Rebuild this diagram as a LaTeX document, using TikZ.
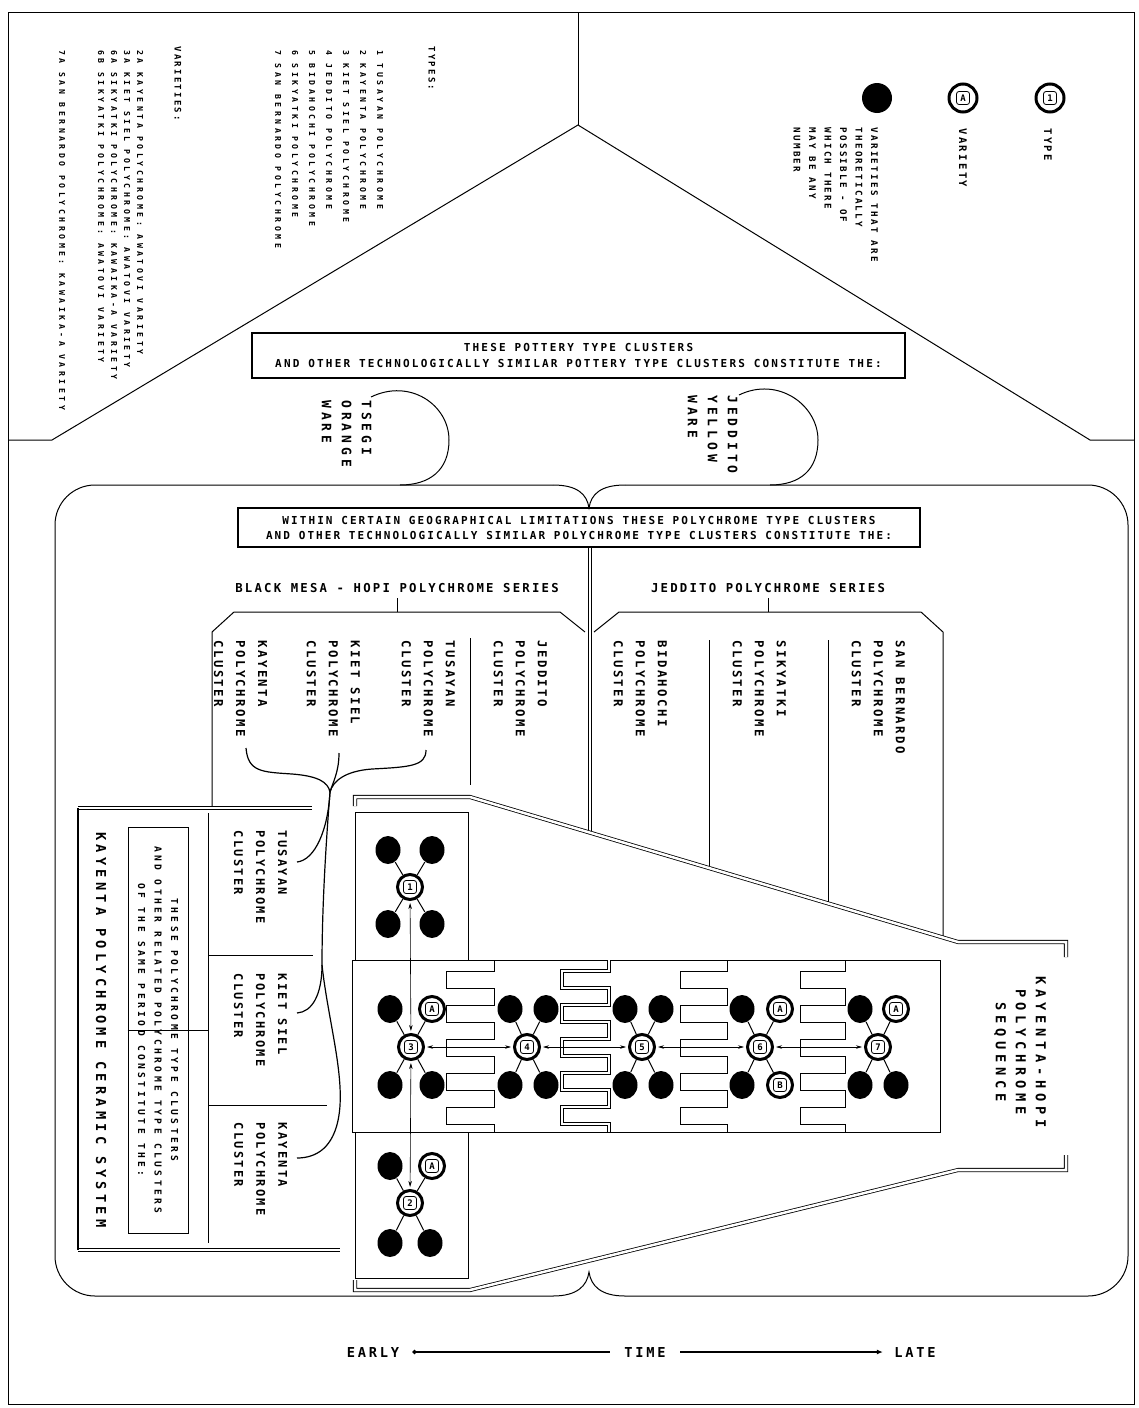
\documentclass[tikz,border=0pt]{standalone}
\usepackage{fontspec}
\setmainfont{DejaVu Sans Mono}
\usetikzlibrary{shapes.geometric,arrows.meta}

% lettering: size, letter spacing, baselineskip
\newcommand{\lt}[3]{\fontsize{#1}{#3}\selectfont\bfseries\addfontfeatures{LetterSpace=#2}}
% type / variety symbol
\newcommand{\sym}[4][]{%
  \node[typering,#1] (#2) at (#3) {};
  \node[typetag] (#2t) at (#2) {#4};}
% interlocking boundary between two types
\newcommand{\meander}[3]{%
  \draw[#3] (#2,960) \foreach \k in {0,...,4} {
    -- (#2,971+34*\k) -- (#1,971+34*\k) -- (#1,988+34*\k) -- (#2,988+34*\k)} -- (#2,1132);}

\begin{document}
\begin{tikzpicture}[x=1pt,y=-1pt,line width=1pt,
  every node/.style={inner sep=0pt},
  typering/.style={circle,draw,line width=3pt,minimum size=25pt},
  typetag/.style={draw,fill=white,rounded corners=2.5pt,line width=0.8pt,minimum size=13pt,font=\lt{9}{0}{9}},
  blob/.style={ellipse,fill=black,minimum width=25pt,minimum height=28pt},
  spoke/.style={line width=1pt},
  twoway/.style={{Stealth[length=6pt,width=3.5pt]}-{Stealth[length=6pt,width=3.5pt]},line width=0.6pt,shorten >=2pt,shorten <=2pt},
  rline/.style={double,double distance=2.5pt,line width=0.8pt},
  boxtext/.style={draw,line width=1.2pt,align=center,font=\lt{11}{20}{16}},
  listtext/.style={rotate=-90,anchor=west,font=\lt{8.2}{43}{10}},
  headtext/.style={rotate=-90,anchor=west,font=\lt{9}{25}{10}},
  clab/.style={rotate=-90,anchor=north west,align=left,font=\lt{12.3}{20}{22}},
  warelab/.style={rotate=-90,anchor=north west,align=left,font=\lt{13}{30}{20}},
]
\useasboundingbox (0,0) rectangle (1138,1408);
\draw (8,12) rectangle (1134,1404);

% dach
\draw (578,12) -- (578,125);
\draw (8,440) -- (52,440) -- (578,125) -- (1090,440) -- (1134,440);

% listen
\node[headtext] (typeshead) at (432,46) {TYPES:};
\node[listtext] (ty1) at (380,50) {1 TUSAYAN POLYCHROME};
\node[listtext] (ty2) at (363,50) {2 KAYENTA POLYCHROME};
\node[listtext] (ty3) at (346,50) {3 KIET SIEL POLYCHROME};
\node[listtext] (ty4) at (329,50) {4 JEDDITO POLYCHROME};
\node[listtext] (ty5) at (312,50) {5 BIDAHOCHI POLYCHROME};
\node[listtext] (ty6) at (295,50) {6 SIKYATKI POLYCHROME};
\node[listtext] (ty7) at (278,50) {7 SAN BERNARDO POLYCHROME};

\node[headtext] (varhead) at (178,46) {VARIETIES:};
\node[listtext] (va2a) at (140,50) {2A KAYENTA POLYCHROME: AWATOVI VARIETY};
\node[listtext] (va3a) at (127,50) {3A KIET SIEL POLYCHROME: AWATOVI VARIETY};
\node[listtext] (va6a) at (114,50) {6A SIKYATKI POLYCHROME: KAWAIKA-A VARIETY};
\node[listtext] (va6b) at (101,50) {6B SIKYATKI POLYCHROME: AWATOVI VARIETY};
\node[listtext] (va7a) at (62,50) {7A SAN BERNARDO POLYCHROME: KAWAIKA-A VARIETY};

% legende
\sym[minimum size=28pt]{ltype}{1050,98}{1}
\node[rotate=-90,anchor=west,font=\lt{10.5}{23}{12}] (ltypetext) at (1048,128) {TYPE};
\sym[minimum size=28pt]{lvar}{963,98}{A}
\node[rotate=-90,anchor=west,font=\lt{10.5}{23}{12}] (lvartext) at (963,128) {VARIETY};
\node[blob,minimum width=30pt,minimum height=30pt] (ldot) at (877,98) {};
\node[rotate=-90,anchor=north west,align=left,font=\lt{9.2}{25}{15.5}] (ldottext) at (878.4,127)
  {VARIETIES THAT ARE\\THEORETICALLY\\POSSIBLE - OF\\WHICH THERE\\MAY BE ANY\\NUMBER};

\node[boxtext,minimum width=653pt,minimum height=45pt] (potbox) at (578.5,355.5)
  {THESE POTTERY TYPE CLUSTERS\\AND OTHER TECHNOLOGICALLY SIMILAR POTTERY TYPE CLUSTERS CONSTITUTE THE:};

% waren
\node[warelab] (tsegi) at (372,400) {TSEGI\\ORANGE\\WARE};
\node[warelab] (jedware) at (738,395) {JEDDITO\\YELLOW\\WARE};
\draw (371,397) .. controls (410,378) and (449,405) .. (449,440) .. controls (449,470) and (430,485) .. (400,485);
\draw (739,395) .. controls (778,376) and (818,405) .. (818,440) .. controls (818,470) and (800,485) .. (770,485);

% rahmen unten
\draw[rounded corners=40pt] (553,485) -- (55,485) -- (55,1296) -- (553,1296);
\draw[rounded corners=40pt] (625,485) -- (1128,485) -- (1128,1296) -- (625,1296);
\draw (553,485) .. controls (577,485) and (587,494) .. (589,508) .. controls (591,494) and (601,485) .. (625,485);
\draw (553,1296) .. controls (577,1296) and (587,1286) .. (589,1272) .. controls (591,1286) and (601,1296) .. (625,1296);

\node[boxtext,minimum width=682pt,minimum height=39pt,font=\lt{11}{19}{15}] (geobox) at (579,527.5)
  {WITHIN CERTAIN GEOGRAPHICAL LIMITATIONS THESE POLYCHROME TYPE CLUSTERS\\AND OTHER TECHNOLOGICALLY SIMILAR POLYCHROME TYPE CLUSTERS CONSTITUTE THE:};
\coordinate (dlbot) at (590,832);
\draw[rline] (geobox.south -| dlbot) -- (dlbot);

% serien
\node[font=\lt{12.3}{18}{14}] (bmser) at (397,588) {BLACK MESA - HOPI POLYCHROME SERIES};
\node[font=\lt{12.3}{18}{14}] (jdser) at (768,588) {JEDDITO POLYCHROME SERIES};
\coordinate (bmtop) at (397,612);
\coordinate (jdtop) at (768,612);
\draw (bmser.south) ++(0,5) -- (bmtop);
\draw (jdser.south) ++(0,5) -- (jdtop);
\draw (212,806) -- (212,632) -- (234,612) -- (560,612) -- (585,632);
\draw (594,632) -- (619,612) -- (921,612) -- (943,632) -- (943,937);
\draw (470,638) -- (470,785);
\draw (709,640) -- (709,868);
\draw (828,640) -- (828,903);

\node[clab] (kayU) at (267.5,640) {KAYENTA\\POLYCHROME\\CLUSTER};
\node[clab] (kietU) at (360.5,640) {KIET SIEL\\POLYCHROME\\CLUSTER};
\node[clab] (tusU) at (455.5,640) {TUSAYAN\\POLYCHROME\\CLUSTER};
\node[clab] (jedU) at (547.5,640) {JEDDITO\\POLYCHROME\\CLUSTER};
\node[clab] (bidU) at (667.5,640) {BIDAHOCHI\\POLYCHROME\\CLUSTER};
\node[clab] (sikU) at (786.5,640) {SIKYATKI\\POLYCHROME\\CLUSTER};
\node[clab] (sanU) at (905.5,640) {SAN BERNARDO\\POLYCHROME\\CLUSTER};

% klammer
\coordinate (bkay) at (246,748);
\coordinate (bkiet) at (339,753);
\coordinate (btus) at (426,750);
\coordinate (bjoin) at (330,792);
\coordinate (bsplit) at (322,965);
\coordinate (etus) at (297,862);
\coordinate (ekiet) at (297,1013);
\coordinate (ekay) at (297,1158);
\begin{scope}[line width=1.2pt]
\draw (bkay) .. controls (248,772) and (262,772) .. (292,774) .. controls (318,776) and (328,782) .. (bjoin);
\draw (bkiet) .. controls (339,772) and (333,782) .. (bjoin);
\draw (btus) .. controls (426,766) and (410,767) .. (372,769) .. controls (345,771) and (333,781) .. (bjoin);
\draw (bjoin) .. controls (327,830) and (322,900) .. (bsplit);
\draw (bjoin) .. controls (328,830) and (315,860) .. (etus);
\draw (bsplit) .. controls (322,995) and (312,1012) .. (ekiet);
\draw (bsplit) .. controls (328,1020) and (345,1075) .. (339,1115) .. controls (334,1148) and (316,1158) .. (ekay);
\end{scope}

% keramik system
\draw[double,double distance=1.5pt,line width=0.9pt] (312,808) -- (78,808);
\draw[double,double distance=1.5pt,line width=0.9pt] (78,1250) -- (340,1250);
\draw[line width=1.4pt] (78,808) -- (78,1250);
\node[rotate=-90,font=\lt{13.7}{31}{16}] (kcsys) at (101,1030) {KAYENTA POLYCHROME CERAMIC SYSTEM};
\node[draw,rotate=-90,minimum width=406pt,minimum height=60pt,align=center,font=\lt{9.6}{36}{16.5}] (relbox) at (158,1030)
  {THESE POLYCHROME TYPE CLUSTERS\\AND OTHER RELATED POLYCHROME TYPE CLUSTERS\\OF THE SAME PERIOD CONSTITUTE THE:};
\coordinate (celltop) at (208,813);
\coordinate (cellbot) at (208,1243);
\draw (celltop) -- (cellbot);
\draw (relbox.south) -- (relbox.south -| celltop);
\draw (208,955) -- (313,955);
\draw (208,1105) -- (327,1105);
\node[clab,font=\lt{12}{19}{22}] (tusL) at (287.5,830) {TUSAYAN\\POLYCHROME\\CLUSTER};
\node[clab,font=\lt{12}{19}{22}] (kietL) at (287.5,973) {KIET SIEL\\POLYCHROME\\CLUSTER};
\node[clab,font=\lt{12}{19}{22}] (kayL) at (287.5,1122) {KAYENTA\\POLYCHROME\\CLUSTER};

% sequenz
\draw[rline] (355,806) -- (355,797) -- (470,797) -- (958,942) -- (1066,942) -- (1066,957);
\draw[rline] (355,1280) -- (355,1290) -- (470,1290) -- (958,1170) -- (1066,1170) -- (1066,1155);
\node[rotate=-90,align=center,font=\lt{13.7}{35}{20}] (kseq) at (1020,1052) {KAYENTA-HOPI\\POLYCHROME\\SEQUENCE};

\draw (355,812) rectangle (468,960);
\draw (352,960) rectangle (940,1132);
\draw (355,1132) rectangle (468,1278);

\meander{446}{494}{}
\meander{562}{609}{double,double distance=2.5pt,line width=0.8pt}
\meander{680}{727}{}
\meander{800}{845}{}

% typ 1
\sym{t1}{410,887}{1}
\node[blob] (b1a) at (388,850) {};
\node[blob] (b1b) at (432,850) {};
\node[blob] (b1c) at (388,924) {};
\node[blob] (b1d) at (432,924) {};
\foreach \b in {b1a,b1b,b1c,b1d} \draw[spoke] (t1) -- (\b);
% typ 3
\sym{t3}{411,1047}{3}
\node[blob] (b3a) at (390,1009) {};
\sym{v3a}{432,1009}{A}
\node[blob] (b3c) at (390,1085) {};
\node[blob] (b3d) at (432,1085) {};
\foreach \b in {b3a,v3a,b3c,b3d} \draw[spoke] (t3) -- (\b);
% typ 4
\sym{t4}{527,1047}{4}
\node[blob] (b4a) at (510,1009) {};
\node[blob] (b4b) at (546,1009) {};
\node[blob] (b4c) at (510,1085) {};
\node[blob] (b4d) at (546,1085) {};
\foreach \b in {b4a,b4b,b4c,b4d} \draw[spoke] (t4) -- (\b);
% typ 5
\sym{t5}{642,1047}{5}
\node[blob] (b5a) at (625,1009) {};
\node[blob] (b5b) at (661,1009) {};
\node[blob] (b5c) at (625,1085) {};
\node[blob] (b5d) at (661,1085) {};
\foreach \b in {b5a,b5b,b5c,b5d} \draw[spoke] (t5) -- (\b);
% typ 6
\sym{t6}{760,1047}{6}
\node[blob] (b6a) at (742,1009) {};
\sym{v6a}{780,1009}{A}
\node[blob] (b6c) at (742,1085) {};
\sym{v6b}{780,1085}{B}
\foreach \b in {b6a,v6a,b6c,v6b} \draw[spoke] (t6) -- (\b);
% typ 7
\sym{t7}{878,1047}{7}
\node[blob] (b7a) at (860,1009) {};
\sym{v7a}{896,1009}{A}
\node[blob] (b7c) at (860,1085) {};
\node[blob] (b7d) at (896,1085) {};
\foreach \b in {b7a,v7a,b7c,b7d} \draw[spoke] (t7) -- (\b);
% typ 2
\sym{t2}{410,1203}{2}
\node[blob] (b2a) at (390,1166) {};
\sym{v2a}{432,1166}{A}
\node[blob] (b2c) at (390,1243) {};
\node[blob] (b2d) at (430,1243) {};
\foreach \b in {b2a,v2a,b2c,b2d} \draw[spoke] (t2) -- (\b);

\draw[twoway] (t1) -- (t3);
\draw[twoway] (t3) -- (t2);
\draw[twoway] (t3) -- (t4);
\draw[twoway] (t4) -- (t5);
\draw[twoway] (t5) -- (t6);
\draw[twoway] (t6) -- (t7);

% zeit
\node[font=\lt{13.7}{20}{16}] (early) at (373,1352) {EARLY};
\node[font=\lt{13.7}{20}{16}] (time) at (645,1352) {TIME};
\node[font=\lt{13.7}{20}{16}] (late) at (915,1352) {LATE};
\draw[line width=1.8pt,{Circle[length=4pt]}-] ([xshift=13pt]early.east) -- ([xshift=-14pt]time.west);
\draw[line width=1.8pt,-{Latex[length=6pt,width=5pt]}] ([xshift=14pt]time.east) -- ([xshift=-11pt]late.west);
\end{tikzpicture}
\end{document}
